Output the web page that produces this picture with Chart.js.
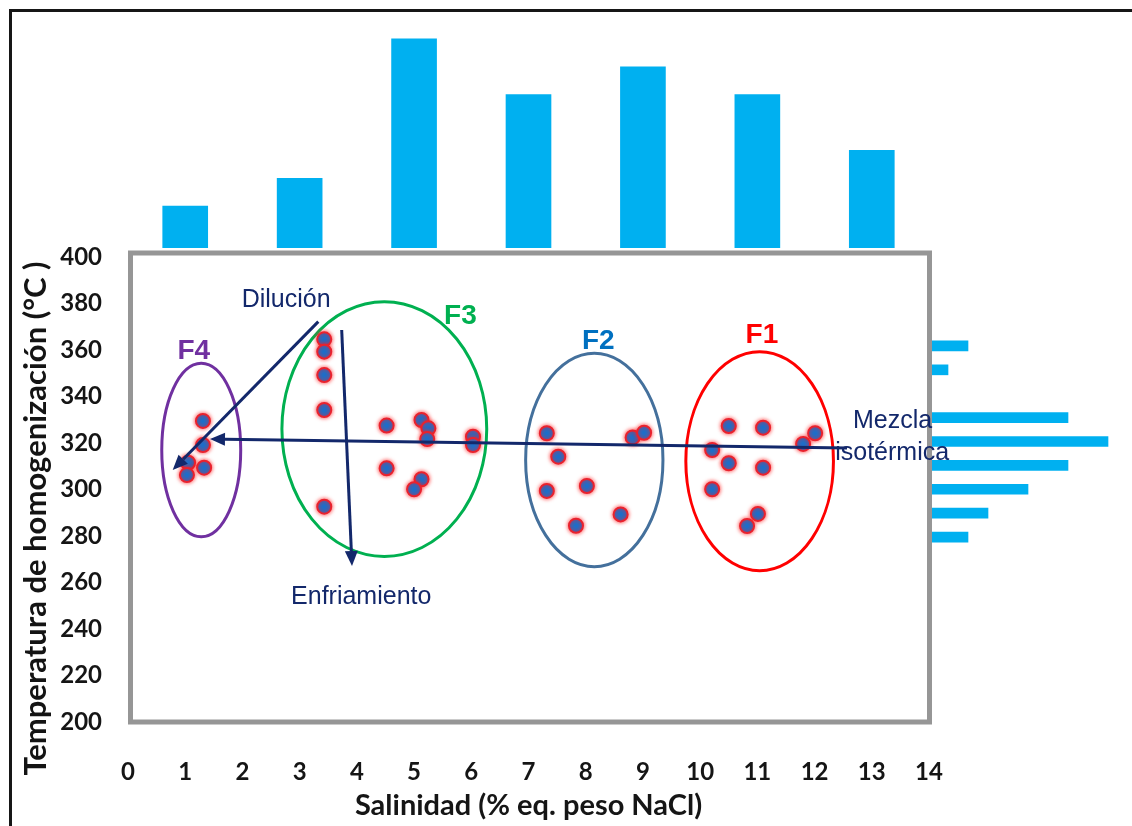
<!DOCTYPE html>
<html>
<head>
<meta charset="utf-8">
<script src="https://cdn.jsdelivr.net/npm/chart.js@4.4.1/dist/chart.umd.min.js"></script>
<style>
  html, body { margin: 0; padding: 0; background: #fff; }
  #wrap { position: relative; width: 1132px; height: 826px; overflow: hidden; background: #fff; }
  #frame { position: absolute; left: 9px; top: 9px; width: 1200px; height: 900px;
           border-top: 3px solid #161616; border-left: 3px solid #161616; }
  canvas { position: absolute; }
  #topHist { left: 0; top: 0; }
  #sideHist { left: 928px; top: 334px; }
  #main { left: 0; top: 0; }
</style>
</head>
<body>
<div id="wrap">
  <div id="frame"></div>
  <canvas id="topHist" width="1132" height="248"></canvas>
  <canvas id="sideHist" width="204" height="215"></canvas>
  <canvas id="main" width="1132" height="826"></canvas>
</div>
<script>
// Axis ticks
const salinityTicks = [0, 1, 2, 3, 4, 5, 6, 7, 8, 9, 10, 11, 12, 13, 14];
const tempTicks = [200, 220, 240, 260, 280, 300, 320, 340, 360, 380, 400];

// Salinity histogram (frequency per 2 wt% bin)
const salinityBins = [1, 3, 5, 7, 9, 11, 13];
const salinityCounts = [3, 5, 15, 11, 13, 11, 7];

// Homogenization temperature histogram (frequency per 10 °C bin)
const tempBins = ['360', '350', '340', '330', '320', '310', '300', '290', '280'];
const tempCounts = [2, 1, 0, 7, 9, 7, 5, 3, 2];

// Fluid inclusion families: salinity (% eq. NaCl) and Th (°C)
const f1Sal = [10.21, 10.5, 11.1, 10.5, 11.1, 10.21, 11.01, 10.82, 11.8, 12.01];
const f1Th  = [317.0, 327.3, 326.6, 311.3, 309.4, 300.1, 289.5, 284.3, 319.6, 324.2];
const f2Sal = [7.32, 7.52, 7.32, 8.02, 7.83, 8.61, 8.82, 9.02];
const f2Th  = [324.2, 314.1, 299.4, 301.5, 284.4, 289.3, 322.4, 324.4];
const f3Sal = [3.43, 3.43, 3.43, 3.43, 3.43, 4.52, 5.13, 5.25, 5.23, 6.03, 6.03, 4.52, 5.13, 5.0];
const f3Th  = [364.6, 359.3, 349.2, 334.2, 292.6, 327.5, 329.9, 326.3, 321.7, 322.7, 319.1, 309.1, 304.4, 300.1];
const f4Sal = [1.31, 1.31, 1.05, 1.03, 1.33];
const f4Th  = [329.5, 319.1, 311.5, 306.2, 309.4];

// Family envelopes (centre and half-axes in data units) and their labels
const familyNames  = ['F1', 'F2', 'F3', 'F4'];
const familyColors = ['#ff0000', '#44709c', '#00b050', '#7030a0'];
const familyLabelColors = ['#ff0000', '#0070c0', '#00b050', '#7030a0'];
const envelopeCx = [11.04, 8.15, 4.48, 1.28];
const envelopeCy = [312.2, 312.7, 326.0, 317.0];
const envelopeRx = [1.29, 1.20, 1.79, 0.69];
const envelopeRy = [47.1, 45.9, 54.8, 37.3];
const familyLabelX = [11.08, 8.22, 5.81, 1.15];
const familyLabelY = [366.5, 363.6, 374.4, 359.3];

// Process trends: arrows from start to tip (data units)
const trendFromX = [3.326, 3.735, 12.567];
const trendFromY = [372.2, 368.6, 317.8];
const trendToX   = [0.781, 3.915, 1.433];
const trendToY   = [308.4, 267.1, 321.7];

// Process captions (left / baseline in data units)
const captionText = ['Dilución', 'Enfriamiento', 'Mezcla', 'isotérmica'];
const captionX = [1.987, 2.85, 12.67, 12.36];
const captionY = [378.5, 250.75, 326.45, 312.7];

const NAVY = '#13286b';
const BAR_BLUE = '#00b0f0';
const AXIS_FONT = 'Lato, "Open Sans", sans-serif';
const NOTE_FONT = '"Liberation Sans", Arial, sans-serif';

const noChrome = { legend: { display: false }, tooltip: { enabled: false } };

// Top marginal histogram (shares the salinity scale)
new Chart(document.getElementById('topHist'), {
  type: 'bar',
  data: {
    datasets: [{
      data: salinityBins.map((x, i) => ({ x: x, y: salinityCounts[i] })),
      backgroundColor: BAR_BLUE,
      barThickness: 45
    }]
  },
  options: {
    responsive: false, animation: false,
    layout: { padding: { left: 128, right: 203, top: 25, bottom: 0 } },
    plugins: noChrome,
    scales: {
      x: { type: 'linear', min: 0, max: 14, offset: false, display: false },
      y: { min: 0, max: 16, display: false }
    }
  }
});

// Right marginal histogram (temperature bins)
new Chart(document.getElementById('sideHist'), {
  type: 'bar',
  data: {
    labels: tempBins,
    datasets: [{ data: tempCounts, backgroundColor: BAR_BLUE, barThickness: 10 }]
  },
  options: {
    indexAxis: 'y',
    responsive: false, animation: false,
    layout: { padding: 0 },
    plugins: noChrome,
    scales: {
      x: { min: 0, max: 10.2, display: false },
      y: { display: false }
    }
  }
});

function drawArrow(ctx, x0, y0, x1, y1) {
  const ang = Math.atan2(y1 - y0, x1 - x0);
  const len = 15, half = 6.5;
  const bx = x1 - len * Math.cos(ang), by = y1 - len * Math.sin(ang);
  ctx.beginPath();
  ctx.moveTo(x0, y0);
  ctx.lineTo(bx, by);
  ctx.stroke();
  ctx.beginPath();
  ctx.moveTo(x1, y1);
  ctx.lineTo(bx + half * Math.sin(ang), by - half * Math.cos(ang));
  ctx.lineTo(bx - half * Math.sin(ang), by + half * Math.cos(ang));
  ctx.closePath();
  ctx.fill();
}

// Frame, family envelopes, trend arrows and captions
const annotations = {
  id: 'annotations',
  beforeDatasetsDraw(chart) {
    const { ctx, chartArea: a, scales: { x, y } } = chart;
    ctx.save();
    ctx.lineWidth = 5;
    ctx.strokeStyle = '#969696';
    ctx.strokeRect(a.left + 2.5, a.top - 4, a.right - a.left - 2, a.bottom - a.top + 4);
    ctx.lineWidth = 3;
    familyNames.forEach((name, i) => {
      const cx = x.getPixelForValue(envelopeCx[i]);
      const cy = y.getPixelForValue(envelopeCy[i]);
      const rx = x.getPixelForValue(envelopeCx[i] + envelopeRx[i]) - cx;
      const ry = cy - y.getPixelForValue(envelopeCy[i] + envelopeRy[i]);
      ctx.strokeStyle = familyColors[i];
      ctx.beginPath();
      ctx.ellipse(cx, cy, rx, ry, 0, 0, Math.PI * 2);
      ctx.stroke();
      ctx.fillStyle = familyLabelColors[i];
      ctx.font = 'bold 28px ' + NOTE_FONT;
      ctx.textAlign = 'center';
      ctx.textBaseline = 'middle';
      ctx.fillText(name, x.getPixelForValue(familyLabelX[i]), y.getPixelForValue(familyLabelY[i]));
    });
    ctx.restore();
    // soft red halo around the inclusion markers
    ctx.save();
    ctx.shadowColor = 'rgba(255, 30, 30, 0.8)';
    ctx.shadowBlur = 4;
  },
  afterDatasetsDraw(chart) {
    const { ctx, scales: { x, y } } = chart;
    ctx.restore();
    ctx.save();
    ctx.strokeStyle = NAVY;
    ctx.fillStyle = NAVY;
    ctx.lineWidth = 3;
    trendFromX.forEach((_, i) => {
      drawArrow(ctx,
        x.getPixelForValue(trendFromX[i]), y.getPixelForValue(trendFromY[i]),
        x.getPixelForValue(trendToX[i]), y.getPixelForValue(trendToY[i]));
    });
    ctx.font = '25px ' + NOTE_FONT;
    ctx.textAlign = 'left';
    ctx.textBaseline = 'alphabetic';
    captionText.forEach((t, i) => {
      ctx.fillText(t, x.getPixelForValue(captionX[i]), y.getPixelForValue(captionY[i]));
    });
    ctx.restore();
  },
  afterDraw(chart) {
    // vertical axis title
    const { ctx, chartArea: a } = chart;
    ctx.save();
    ctx.translate(36, (a.top + a.bottom) / 2 + 29);
    ctx.rotate(-Math.PI / 2);
    ctx.font = 'bold 31px ' + AXIS_FONT;
    ctx.fillStyle = '#141414';
    ctx.textAlign = 'center';
    ctx.textBaseline = 'middle';
    ctx.fillText('Temperatura de homogenización (°C )', 0, 0);
    ctx.restore();
  }
};

const markerStyle = {
  pointRadius: 7,
  pointBorderWidth: 2,
  pointBackgroundColor: '#1b6fcb',
  pointBorderColor: '#e8222e',
  showLine: false
};

const families = [[f1Sal, f1Th], [f2Sal, f2Th], [f3Sal, f3Th], [f4Sal, f4Th]];

new Chart(document.getElementById('main'), {
  type: 'scatter',
  data: {
    datasets: families.map(([sal, th], i) => Object.assign({
      label: familyNames[i],
      data: sal.map((s, k) => ({ x: s, y: th[k] }))
    }, markerStyle))
  },
  options: {
    responsive: false, animation: false,
    layout: { padding: { left: 14, top: 257, right: 203, bottom: 0 } },
    plugins: noChrome,
    scales: {
      x: {
        type: 'linear', min: 0, max: 14,
        afterBuildTicks(s) { s.ticks = salinityTicks.map(v => ({ value: v })); },
        afterFit(s) { s.height = 104; },
        grid: { display: false, drawTicks: false },
        border: { display: false },
        ticks: { padding: 36, color: '#151515', font: { family: AXIS_FONT, weight: 'bold', size: 24 } },
        title: {
          display: true, text: 'Salinidad (% eq. peso NaCl)', color: '#151515',
          font: { family: AXIS_FONT, weight: 'bold', size: 29 },
          padding: { top: 0, bottom: 3 }
        }
      },
      y: {
        type: 'linear', min: 200, max: 400,
        afterBuildTicks(s) { s.ticks = tempTicks.map(v => ({ value: v })); },
        afterFit(s) { s.width = 114; },
        grid: { display: false, drawTicks: false },
        border: { display: false },
        ticks: { padding: 26, color: '#151515', font: { family: AXIS_FONT, weight: 'bold', size: 24 } }
      }
    }
  },
  plugins: [annotations]
});
</script>
</body>
</html>
